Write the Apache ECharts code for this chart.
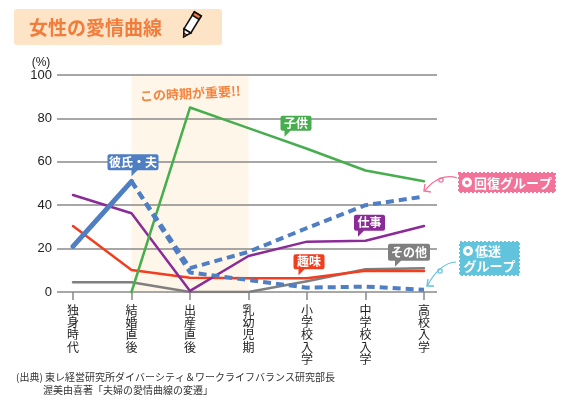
<!DOCTYPE html>
<html><head><meta charset="utf-8">
<script src="https://cdn.jsdelivr.net/npm/echarts@6/dist/echarts.min.js"></script>
<style>html,body{margin:0;padding:0;background:#fff}#c{width:566px;height:405px}</style>
</head><body><div id="c"></div>
<script>
const categories = ['独身時代','結婚直後','出産直後','乳幼児期','小学校入学','中学校入学','高校入学'];
const yTicks = [0, 20, 40, 60, 80, 100];
const partnerBefore = [21, 51, null, null, null, null, null];
const partnerRecovery = [null, 51, 11, 18.5, 29.5, 40, 44];
const partnerLow = [null, 51, 9, 5.5, 2, 2.5, 1];
const kids = [null, 0, 85, 75.5, 66, 56, 51];
const work = [44.7, 36.3, 0.5, 16.6, 23.2, 23.6, 30.4];
const hobby = [30.4, 10.1, 6.6, 6.3, 6.3, 9.8, 9.7];
const other = [4.5, 4.5, 0, 0, 5, 10.5, 10.9];

const FONT = '"Noto Sans CJK JP", "Noto Sans", sans-serif';
const C = {blue:'#4F7EC2', green:'#47AE4E', purple:'#8A2B98', red:'#F23D1F', gray:'#7f7f7f', orange:'#F27C3C', pink:'#F2729A', sky:'#62C3DD'};

function bubble(text, color, w, h, tx, cat, val, dx, dy) {
  const t = 6;
  const path = `path://M2,0 L${w-2},0 Q${w},0 ${w},2 L${w},${h-2} Q${w},${h} ${w-2},${h} L${tx+6},${h} L${tx},${h+t} L${tx},${h} L2,${h} Q0,${h} 0,${h-2} L0,2 Q0,0 2,0 Z`;
  return {
    coord: [cat, val],
    symbol: path,
    symbolSize: [w, h + t],
    symbolOffset: [dx - tx + w / 2, dy - (h + t) / 2],
    itemStyle: {color: color},
    label: {show: true, position: 'inside', formatter: text, color: '#fff', fontSize: 12, fontWeight: 'bold', fontFamily: FONT, offset: [0, -t / 2]}
  };
}

const chart = echarts.init(document.getElementById('c'));
const lineSeries = (name, data, color, width, dashed, z) => ({
  name, type: 'line', xAxisIndex: 1, yAxisIndex: 1, data, symbol: 'none', smooth: false, z: z || 2,
  lineStyle: {color, width, type: dashed ? [8, 5] : 'solid', cap: dashed ? 'butt' : 'round', join: 'round'},
  emphasis: {disabled: true}, silent: true
});

chart.setOption({
  animation: false,
  textStyle: {fontFamily: FONT},
  grid: [
    {left: 57, right: 129, top: 75, bottom: 113},
    {left: 73, right: 142, top: 75, bottom: 113}
  ],
  xAxis: [
    {gridIndex: 0, type: 'category', data: categories, show: false},
    {gridIndex: 1, type: 'category', data: categories, boundaryGap: false,
     axisLine: {show: false},
     axisTick: {show: true, length: 8, lineStyle: {color: '#888', width: 1.5}},
     axisLabel: {interval: 0, margin: 12, color: '#222', fontSize: 12, lineHeight: 12.3, fontFamily: FONT,
       formatter: v => v.split('').join('\n')}}
  ],
  yAxis: [
    {gridIndex: 0, type: 'value', min: yTicks[0], max: yTicks[yTicks.length-1], interval: 20,
     axisLine: {show: false}, axisTick: {show: false},
     axisLabel: {color: '#222', fontSize: 13, margin: 5, fontFamily: 'Liberation Sans, Arial, sans-serif'},
     splitLine: {show: true, lineStyle: {color: '#8a8a8a', width: 1.5}}},
    {gridIndex: 1, type: 'value', min: 0, max: 100, show: false}
  ],
  series: [
    {type: 'line', xAxisIndex: 1, yAxisIndex: 1, data: [], silent: true,
     markArea: {silent: true, z: -1, itemStyle: {color: '#FFF6EA', opacity: 1},
       label: {show: true, position: 'insideTop', distance: 12, formatter: 'この時期が重要!!', color: '#F5843F', fontSize: 13, fontWeight: 'bold', fontFamily: FONT, rotate: 3},
       data: [[{xAxis: categories[1], yAxis: 100}, {xAxis: categories[3], yAxis: 0}]]}},
    lineSeries('その他', other, C.gray, 2.5),
    lineSeries('趣味', hobby, C.red, 2.5),
    lineSeries('仕事', work, C.purple, 2.5),
    lineSeries('子供', kids, C.green, 2.5),
    lineSeries('彼氏・夫(低迷)', partnerLow, C.blue, 4, true),
    lineSeries('彼氏・夫(回復)', partnerRecovery, C.blue, 4, true),
    lineSeries('彼氏・夫', partnerBefore, C.blue, 5),
    {type: 'line', xAxisIndex: 1, yAxisIndex: 1, data: [], silent: true, z: 6,
     markPoint: {silent: true, animation: false, data: [
       bubble('彼氏・夫', C.blue, 51, 16, 24, categories[1], partnerBefore[1], 0, -5),
       bubble('子供', C.green, 31, 15, 4, categories[3], kids[3], 36, 8.5),
       bubble('仕事', C.purple, 31, 16, 4, categories[5], work[5], -7.5, -4),
       bubble('趣味', C.red, 31, 15, 5, categories[4], hobby[4], -8.5, -3),
       bubble('その他', C.gray, 42, 17, 7, categories[6], other[6], -29, -1.5)
     ]}}
  ],
  graphic: [
    {type: 'rect', shape: {x: 14, y: 9, width: 208, height: 36, r: 3}, style: {fill: '#FDE4C7'}, z: 0},
    {type: 'text', x: 29, y: 28, style: {text: '女性の愛情曲線', fill: C.orange, fontSize: 19, fontWeight: 'bold', fontFamily: FONT, verticalAlign: 'middle'}},
    {type: 'group', x: 191, y: 25, rotation: -0.55, children: [
      {type: 'rect', shape: {x: -4, y: -13, width: 8, height: 20}, style: {fill: '#fff', stroke: '#111', lineWidth: 1.6}},
      {type: 'rect', shape: {x: -4, y: -13, width: 8, height: 4}, style: {fill: C.orange, stroke: '#111', lineWidth: 1.6}},
      {type: 'polygon', shape: {points: [[-4, 7], [4, 7], [0, 14]]}, style: {fill: '#fff', stroke: '#111', lineWidth: 1.6}},
      {type: 'polygon', shape: {points: [[-1.6, 10.5], [1.6, 10.5], [0, 14]]}, style: {fill: C.orange, stroke: '#111', lineWidth: 1}}
    ]},
    {type: 'text', x: 41, y: 63, style: {text: '(%)', fill: '#222', fontSize: 12, fontFamily: 'Liberation Sans, Arial, sans-serif', align: 'center', verticalAlign: 'middle'}},
    // recovery tag
    {type: 'rect', shape: {x: 459, y: 173, width: 96, height: 19}, style: {fill: C.pink, stroke: C.pink, lineWidth: 2, lineDash: [2, 2]}},
    {type: 'circle', shape: {cx: 467, cy: 182.5, r: 5}, style: {fill: '#fff'}},
    {type: 'circle', shape: {cx: 467, cy: 182.5, r: 2}, style: {fill: C.pink}},
    {type: 'text', x: 474, y: 183, style: {text: '回復グループ', fill: '#fff', fontSize: 13, fontWeight: 'bold', fontFamily: FONT, verticalAlign: 'middle'}},
    {type: 'bezierCurve', shape: {x1: 457, y1: 178, x2: 425, y2: 191, cpx1: 446, cpy1: 174, cpx2: 432, cpy2: 180}, style: {stroke: C.pink, lineWidth: 1.2, fill: null}},
    {type: 'circle', shape: {cx: 441, cy: 180, r: 2.2}, style: {stroke: C.pink, lineWidth: 1.2, fill: null}},
    {type: 'polyline', shape: {points: [[425, 184], [424, 191], [431, 192]]}, style: {stroke: C.pink, lineWidth: 1.4, fill: null}},
    // low tag
    {type: 'rect', shape: {x: 460, y: 242, width: 59, height: 33}, style: {fill: C.sky, stroke: C.sky, lineWidth: 2, lineDash: [2, 2]}},
    {type: 'circle', shape: {cx: 468, cy: 251, r: 5}, style: {fill: '#fff'}},
    {type: 'circle', shape: {cx: 468, cy: 251, r: 2}, style: {fill: C.sky}},
    {type: 'text', x: 475, y: 251.5, style: {text: '低迷', fill: '#fff', fontSize: 13, fontWeight: 'bold', fontFamily: FONT, verticalAlign: 'middle'}},
    {type: 'text', x: 489.5, y: 266.5, style: {text: 'グループ', fill: '#fff', fontSize: 13, fontWeight: 'bold', fontFamily: FONT, align: 'center', verticalAlign: 'middle'}},
    {type: 'bezierCurve', shape: {x1: 456, y1: 262, x2: 428, y2: 285, cpx1: 446, cpy1: 262, cpx2: 434, cpy2: 272}, style: {stroke: C.sky, lineWidth: 1.2, fill: null}},
    {type: 'circle', shape: {cx: 440, cy: 271, r: 2.2}, style: {stroke: C.sky, lineWidth: 1.2, fill: null}},
    {type: 'polyline', shape: {points: [[428, 279], [427, 286], [434, 286]]}, style: {stroke: C.sky, lineWidth: 1.4, fill: null}},
    // source
    {type: 'text', x: 16, y: 377, style: {text: '(出典) 東レ経営研究所ダイバーシティ＆ワークライフバランス研究部長', fill: '#333', fontSize: 10, fontFamily: FONT, verticalAlign: 'middle'}},
    {type: 'text', x: 43, y: 390, style: {text: '渥美由喜著「夫婦の愛情曲線の変遷」', fill: '#333', fontSize: 10, fontFamily: FONT, verticalAlign: 'middle'}}
  ]
});
</script></body></html>
